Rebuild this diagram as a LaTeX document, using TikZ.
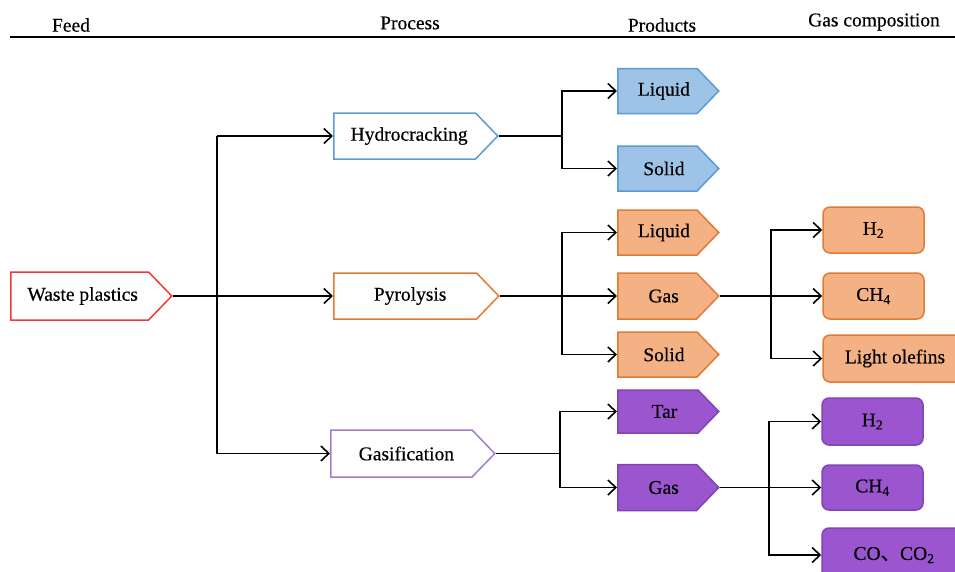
\documentclass[tikz,border=0pt]{standalone}
\usepackage{fontspec}
\setmainfont{Liberation Serif}
\newfontfamily\heavy{Liberation Serif}[FakeBold=0.4]
\newfontfamily\cjk{Noto Sans CJK SC}[FakeBold=0.4]
\usetikzlibrary{shapes.symbols,arrows.meta}
\definecolor{bluefill}{HTML}{9DC3E6}
\definecolor{blueline}{HTML}{5B9BD5}
\definecolor{orfill}{HTML}{F4B183}
\definecolor{orline}{HTML}{E07B36}
\definecolor{pufill}{HTML}{9B55CF}
\definecolor{puline}{HTML}{7E44B8}
\definecolor{redline}{HTML}{F03A3A}
\tikzset{
  every node/.style={font=\heavy\fontsize{19.5}{21}\selectfont, inner sep=0pt},
  pent/.style={signal, signal to=east, signal pointer angle=92, line width=1.5pt, inner sep=0pt, anchor=west},
  rbox/.style={rectangle, rounded corners=7pt, line width=1.5pt, inner sep=0pt},
  arr/.style={line width=1.6pt, -{Straight Barb[length=8pt,width=15pt,line width=1.6pt]}},
  ln/.style={line width=1.6pt},
  hdr/.style={font=\heavy\fontsize{19.5}{21}\selectfont}
}
\begin{document}
\begin{tikzpicture}[x=1pt,y=-1pt]
\useasboundingbox (0,0) rectangle (955,571);
\clip (0,0) rectangle (955,571);
% headers
\node[hdr] (hfeed) at (71,25) {Feed};
\node[hdr] (hproc) at (410,23) {Process};
\node[hdr] (hprod) at (662,25) {Products};
\node[hdr] (hgas) at (874,22) {Gas composition};
\coordinate (rl) at (10,37);
\coordinate (rr) at (955,37);
\draw[line width=2pt] (rl) -- (rr);
% feed
\node[pent, draw=redline, fill=white, minimum width=161, minimum height=48] (wp) at (10,296) {\hspace{6pt}Waste plastics};
% processes
\node[pent, draw=blueline, fill=white, minimum width=164, minimum height=46] (hy) at (333,136) {\hspace{9pt}Hydrocracking};
\node[pent, draw=orline, fill=white, minimum width=165, minimum height=46] (py) at (333,296) {\hspace{10pt}Pyrolysis};
\node[pent, draw=puline!70, fill=white, minimum width=164, minimum height=47] (gf) at (330,453.5) {\hspace{10pt}Gasification};
% products
\node[pent, draw=blueline, fill=bluefill, minimum width=101, minimum height=45] (l1) at (617,91) {\hspace{13pt}Liquid};
\node[pent, draw=blueline, fill=bluefill, minimum width=101, minimum height=45] (s1) at (617,168.5) {\hspace{13pt}Solid};
\node[pent, draw=orline, fill=orfill, minimum width=101, minimum height=45] (l2) at (617,232.5) {\hspace{13pt}Liquid};
\node[pent, draw=orline, fill=orfill, minimum width=101, minimum height=46] (g2) at (617,296) {\hspace{13pt}Gas};
\node[pent, draw=orline, fill=orfill, minimum width=101, minimum height=45] (s2) at (617,354.5) {\hspace{13pt}Solid};
\node[pent, draw=puline, fill=pufill, minimum width=101, minimum height=43] (tr) at (617,411.5) {\hspace{13pt}Tar};
\node[pent, draw=puline, fill=pufill, minimum width=101, minimum height=46] (g3) at (617,487.5) {\hspace{13pt}Gas};
% gas composition
\node[rbox, draw=orline, fill=orfill, minimum width=101, minimum height=46] (h2a) at (873.5,230) {H\textsubscript{2}};
\node[rbox, draw=orline, fill=orfill, minimum width=101, minimum height=46] (ch4a) at (873.5,296) {CH\textsubscript{4}};
\node[rbox, draw=orline, fill=orfill, minimum width=144, minimum height=47] (lo) at (895,358.5) {Light olefins};
\node[rbox, draw=puline, fill=pufill, minimum width=101, minimum height=47] (h2b) at (872.5,421.5) {H\textsubscript{2}};
\node[rbox, draw=puline, fill=pufill, minimum width=101, minimum height=45] (ch4b) at (872.5,487.5) {CH\textsubscript{4}};
\node[rbox, draw=puline, fill=pufill, minimum width=144, minimum height=54] (co) at (894,555) {CO{\cjk 、}CO\textsubscript{2}};
% connectors
\coordinate (ja) at (217,136);
\coordinate (hb) at (562,136);
\coordinate (pb) at (562,296);
\coordinate (gb) at (560,453.5);
\coordinate (cb) at (771,296);
\coordinate (db) at (769,487.5);
\draw[arr] (wp.east) -- (py.west);
\draw[arr] (ja) -- (hy.west);
\draw[arr] (ja) |- (gf.west);
\draw[ln] (hy.east) -- (hb);
\draw[arr] (hb) |- (l1.west);
\draw[arr] (hb) |- (s1.west);
\draw[arr] (py.east) -- (g2.west);
\draw[arr] (pb) |- (l2.west);
\draw[arr] (pb) |- (s2.west);
\draw[ln] (gf.east) -- (gb);
\draw[arr] (gb) |- (tr.west);
\draw[arr] (gb) |- (g3.west);
\draw[arr] (g2.east) -- (ch4a.west);
\draw[arr] (cb) |- (h2a.west);
\draw[arr] (cb) |- (lo.west);
\draw[arr] (g3.east) -- (ch4b.west);
\draw[arr] (db) |- (h2b.west);
\draw[arr] (db) |- (co.west);
\end{tikzpicture}
\end{document}
